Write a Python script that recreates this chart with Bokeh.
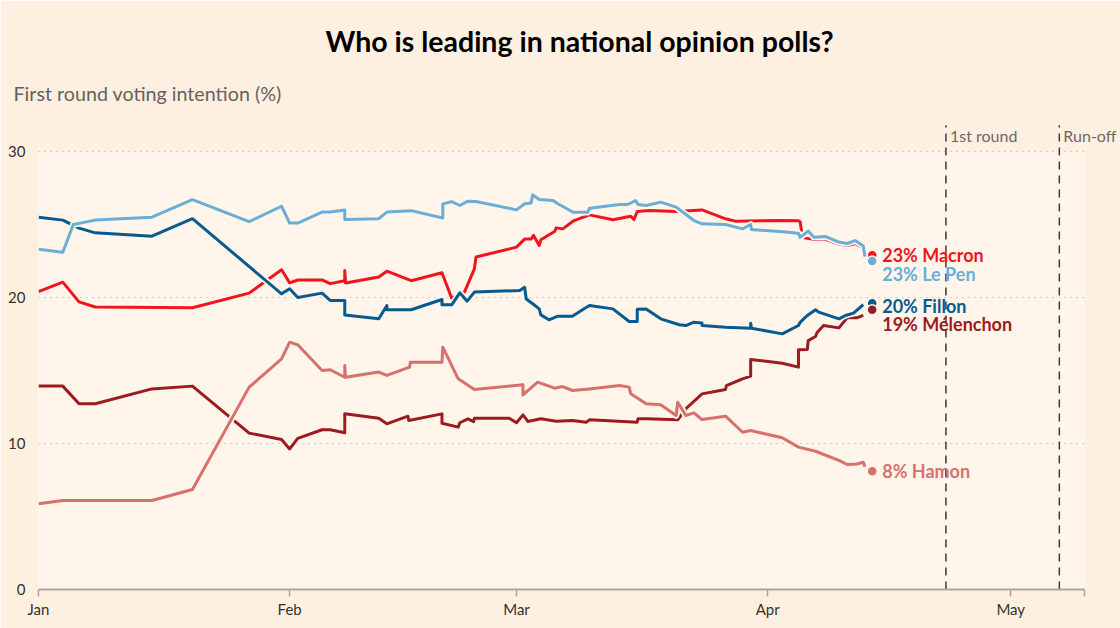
from bokeh.plotting import figure
from bokeh.models import Range1d, FixedTicker, BoxAnnotation, ColumnDataSource, Title
from bokeh.core.properties import value
from bokeh.embed import file_html
from bokeh.resources import INLINE

# ---------------- data (days since 1 Jan 2017, first-round voting intention %) ----------------
macron_day = [0, 3, 5, 7, 19, 26, 30, 31, 32, 35, 36, 37.8, 37.8, 37.9, 42, 43, 46, 49.8, 51, 52.6, 53.8, 54,
              59, 60, 60.8, 61.1, 61.8, 62, 63.7, 63.9, 64.7, 66.1, 68, 70.9, 73.1, 73.5, 73.9, 75.4, 78.7,
              81.9, 84.8, 86, 91.4, 93.8, 94, 94.3, 95.7, 97, 98.8, 99.8, 100.8, 101.8, 102]
macron_pct = [20.4, 21.05, 19.7, 19.35, 19.3, 20.3, 21.9, 21.0, 21.2, 21.2, 20.95, 21.15, 21.85, 21.0, 21.4, 21.8,
              21.15, 21.7, 19.95, 20.4, 21.96, 22.77, 23.45, 24.0, 24.0, 24.25, 23.56, 23.95, 24.52, 24.77, 24.7,
              25.27, 25.66, 25.32, 25.57, 25.34, 25.89, 25.96, 25.89, 26.0, 25.39, 25.23, 25.27, 25.25, 25.2,
              24.1, 23.98, 24.02, 23.66, 23.56, 23.7, 23.38, 23.0]

lepen_day = [0, 3, 4.3, 7, 14, 19, 26, 30, 31, 32, 35, 36, 37.8, 37.8, 42, 43, 46, 49.9, 49.9, 51, 52, 53, 54,
             59, 60, 60.8, 61, 61.8, 63.5, 64.1, 66, 67.8, 68, 71.7, 72.7, 73.7, 74, 75, 76.8, 78.7, 80.9,
             81.9, 84.8, 86.9, 87.9, 88, 91.8, 93.8, 94, 95, 95.7, 97.1, 98.8, 99.8, 100.8, 101.8, 102]
lepen_pct = [23.3, 23.1, 25.0, 25.3, 25.5, 26.7, 25.2, 26.25, 25.1, 25.1, 25.85, 25.85, 26.0, 25.35, 25.4, 25.85,
             25.95, 25.45, 26.4, 26.57, 26.3, 26.6, 26.58, 26.0, 26.42, 26.48, 27.03, 26.71, 26.64, 26.42, 25.84,
             25.84, 26.12, 26.37, 26.37, 26.64, 26.37, 26.3, 26.53, 26.19, 25.27, 25.05, 25.0, 24.7, 25.0, 24.65,
             24.5, 24.4, 24.12, 24.55, 24.13, 24.18, 23.8, 23.7, 23.9, 23.52, 22.8]

fillon_day = [0, 3, 5, 7, 14, 19, 30, 31, 32, 35, 36, 37.8, 37.8, 42, 43, 43, 46, 49.8, 49.8, 51, 52, 52.9, 53.8,
              59.4, 60, 60.2, 61, 61.8, 62, 63, 64.1, 65.9, 67, 68, 70.9, 72.9, 73.9, 73.9, 75, 76.8, 79.1, 79.9,
              80.9, 81.9, 81.9, 84.8, 87.9, 87.9, 88, 91.8, 93.8, 94, 94.9, 95.9, 96.3, 98.8, 99.6, 100.6, 101.8]
fillon_pct = [25.5, 25.3, 24.75, 24.43, 24.2, 25.4, 20.25, 20.6, 20.0, 20.3, 19.8, 19.8, 18.8, 18.54, 19.45, 19.16,
              19.16, 19.86, 19.5, 19.5, 20.32, 19.75, 20.37, 20.48, 20.7, 19.9, 19.57, 19.22, 18.81, 18.47, 18.72,
              18.72, 19.11, 19.45, 19.22, 18.36, 18.36, 19.2, 19.22, 18.54, 18.13, 18.08, 18.31, 18.26, 18.08,
              17.97, 17.9, 18.24, 17.9, 17.51, 18.08, 18.3, 18.77, 19.16, 19.0, 18.54, 18.77, 18.93, 19.52]

melenchon_day = [0, 3, 5, 7, 14, 19, 26, 30, 31, 32, 35, 36, 37.8, 37.8, 42, 43, 45.6, 45.7, 49.8, 49.8, 51.8, 52,
                 53, 53.7, 53.8, 58.1, 59, 59.8, 60.4, 62, 63.9, 65.9, 67.6, 68, 73.9, 74, 75, 78.9, 79.9, 81.9,
                 84.8, 84.9, 86.9, 87.9, 87.9, 91.8, 93.8, 93.8, 94.9, 95, 95.9, 96.1, 96.9, 98.8, 99.8, 101, 101.8]
melenchon_pct = [13.93, 13.93, 12.72, 12.72, 13.74, 13.93, 10.71, 10.27, 9.63, 10.35, 10.94, 10.94, 10.73, 12.03,
                 11.73, 11.35, 11.87, 11.58, 12.03, 11.39, 11.12, 11.42, 11.69, 11.5, 11.73, 11.73, 11.42, 11.96,
                 11.51, 11.69, 11.53, 11.58, 11.46, 11.62, 11.46, 11.69, 11.69, 11.62, 12.38, 13.4, 13.7, 13.97,
                 14.43, 14.61, 15.75, 15.5, 15.23, 16.42, 16.44, 17.05, 17.33, 17.6, 18.08, 17.92, 18.61, 18.61, 18.77]

hamon_day = [0, 3, 14, 19, 26, 30, 31, 32, 35, 36, 37.8, 37.8, 37.9, 42, 43, 45.8, 45.9, 49.8, 49.9, 51.8, 53.8,
             59.8, 59.8, 61.6, 63.7, 64.7, 65.9, 68, 71.7, 72.9, 73.1, 75, 76.8, 78.7, 78.9, 79.9, 80.9, 81.9,
             84.8, 86.9, 87.9, 91.8, 93.8, 95.9, 98.8, 99.8, 101, 101.8, 102]
hamon_pct = [5.87, 6.1, 6.1, 6.85, 13.86, 15.8, 16.94, 16.76, 15.0, 15.05, 14.54, 15.34, 14.54, 14.89, 14.66, 15.23,
             15.57, 15.57, 16.6, 14.43, 13.7, 14.02, 13.33, 14.2, 13.79, 13.9, 13.63, 13.74, 13.97, 13.86, 13.4,
             12.72, 12.65, 11.92, 12.83, 11.92, 12.1, 11.64, 11.87, 10.77, 10.89, 10.39, 9.75, 9.47, 8.84, 8.56,
             8.6, 8.72, 8.4]

candidates = ["Macron", "Le Pen", "Fillon", "Mélenchon", "Hamon"]
latest_day = 102.9
latest_pct = [22.9, 22.5, 19.6, 19.16, 8.1]
latest_label_pct = [23, 23, 20, 19, 8]

event_day = [112, 126]
event_names = ["1st round", "Run-off"]

axis_end_day = 129.1
month_ticks = [0, 31, 59, 90, 120, axis_end_day]
month_labels = ["Jan", "Feb", "Mar", "Apr", "May", ""]
y_ticks = [0, 10, 20, 30]
grid_levels = [10, 20, 30]

title_text = "Who is leading in national opinion polls?"
subtitle_text = "First round voting intention (%)"

# ---------------- style ----------------
OUT_BG = "#FEF0E1"
PLOT_BG = "#FFF5EB"
FONT = value("Lato")
colors = {"Macron": "#F0141E", "Le Pen": "#6AAED6", "Fillon": "#065A8E",
          "Mélenchon": "#9B1B20", "Hamon": "#D8706E"}
label_offset = {"Macron": 0.0, "Le Pen": -0.9, "Fillon": -0.15, "Mélenchon": -0.95, "Hamon": 0.0}

PX_PER_DAY = 8.102
PX_PER_PT = 14.6
LEFT, TOP, BOTTOM = 38, 120, 39

p = figure(width=1120, height=628, output_backend="svg", toolbar_location=None,
           x_range=Range1d(0, (1120 - LEFT) / PX_PER_DAY),
           y_range=Range1d(0, (628 - TOP - BOTTOM) / PX_PER_PT),
           min_border_left=LEFT, min_border_right=0, min_border_top=TOP, min_border_bottom=BOTTOM,
           background_fill_color=OUT_BG, border_fill_color=OUT_BG, outline_line_color=None)

p.add_layout(BoxAnnotation(left=0, right=axis_end_day, bottom=0, top=30, fill_color=PLOT_BG,
                           fill_alpha=1.0, line_alpha=0, level="image"))

# axes
p.xaxis.ticker = FixedTicker(ticks=month_ticks)
p.xaxis.bounds = (0, axis_end_day)
p.xaxis.major_label_overrides = {t: l for t, l in zip(month_ticks, month_labels)}
p.xaxis.axis_line_color = "#ABA49E"
p.xaxis.axis_line_width = 2
p.xaxis.major_tick_line_color = "#ABA49E"
p.xaxis.major_tick_line_width = 1.5
p.xaxis.major_tick_in = 0
p.xaxis.major_tick_out = 7
p.xaxis.minor_tick_line_color = None
p.xaxis.major_label_text_font = "Lato"
p.xaxis.major_label_text_font_size = "15px"
p.xaxis.major_label_text_color = "#33302E"
p.xaxis.major_label_standoff = 3

p.yaxis.ticker = FixedTicker(ticks=y_ticks)
p.yaxis.axis_line_color = None
p.yaxis.major_tick_line_color = None
p.yaxis.minor_tick_line_color = None
p.yaxis.major_label_text_font = "Lato"
p.yaxis.major_label_text_font_size = "15px"
p.yaxis.major_label_text_color = "#33302E"
p.yaxis.major_label_standoff = 7

p.xgrid.visible = False
p.ygrid.visible = False
# dotted horizontal gridlines, limited to the axis extent
p.segment(x0=[0] * len(grid_levels), x1=[axis_end_day] * len(grid_levels), y0=grid_levels, y1=grid_levels,
          line_color="#B0A79F", line_dash="1 5", line_width=1, level="underlay")

# event lines
ev = ColumnDataSource(dict(x=event_day, y0=[0, 0], y1=[31.8, 31.8], ty=[31.1, 31.1], name=event_names))
p.segment(x0="x", y0="y0", x1="x", y1="y1", source=ev, line_color="#3C3936",
          line_width=1.5, line_dash="8 6")
p.text(x="x", y="ty", text="name", source=ev, x_offset=4, text_font=FONT,
       text_font_size="16px", text_color="#6E6862", text_align="left", text_baseline="middle")

series = {"Macron": (macron_day, macron_pct), "Le Pen": (lepen_day, lepen_pct),
          "Fillon": (fillon_day, fillon_pct), "Mélenchon": (melenchon_day, melenchon_pct),
          "Hamon": (hamon_day, hamon_pct)}

for name in ["Macron", "Mélenchon", "Hamon", "Fillon", "Le Pen"]:
    d, v = series[name]
    p.line(d, v, line_color=PLOT_BG, line_width=6.5, line_join="round")
    p.line(d, v, line_color=colors[name], line_width=3, line_join="round")

for name in ["Macron", "Fillon", "Le Pen", "Mélenchon", "Hamon"]:
    i = candidates.index(name)
    p.scatter([latest_day], [latest_pct[i]], size=10, fill_color=colors[name],
              line_color=PLOT_BG, line_width=1.5)

lab = ColumnDataSource(dict(
    x=[latest_day] * 5,
    y=[latest_pct[i] + label_offset[c] for i, c in enumerate(candidates)],
    text=[f"{latest_label_pct[i]}% {c}" for i, c in enumerate(candidates)],
    color=[colors[c] for c in candidates]))
p.text(x="x", y="y", text="text", source=lab, x_offset=10, text_color="color", text_font=FONT,
       text_font_style="bold", text_font_size="18px", text_align="left", text_baseline="middle")

# subtitle (closest to the frame) then title
p.add_layout(Title(text=subtitle_text, align="left", offset=-25, standoff=32,
                   text_font="Lato", text_font_style="normal", text_font_size="19.7px",
                   text_color="#66605C"), "above")
p.add_layout(Title(text=title_text, align="center", offset=16, standoff=12,
                   text_font="Lato", text_font_style="bold", text_font_size="28.5px",
                   text_color="#000000"), "above")

open("out.html", "w").write(file_html(p, INLINE))
